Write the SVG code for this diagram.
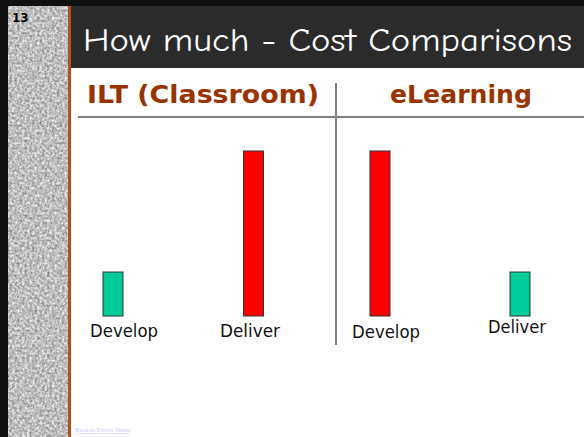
<svg xmlns="http://www.w3.org/2000/svg" width="584" height="437" viewBox="0 0 584 437">
<defs>
<filter id="noise" x="0" y="0" width="100%" height="100%" color-interpolation-filters="sRGB">
<feTurbulence type="fractalNoise" baseFrequency="0.4" numOctaves="2" seed="3" result="t"/>
<feColorMatrix in="t" type="matrix" values="0.65 0 0 0 0.42  0.65 0 0 0 0.42  0.65 0 0 0 0.42  0 0 0 0 1"/>
</filter>
<style>
.hdr{font-family:"DejaVu Sans",Verdana,sans-serif;font-weight:bold;font-size:24px;fill:#993300}
.lbl{font-family:"DejaVu Sans",Tahoma,sans-serif;font-size:18px;fill:#111}
.bar{stroke:#333;stroke-width:1}
.red{fill:#ff0000}
.grn{fill:#00cc99}
.rule{stroke:#808080;stroke-width:2}
</style>
</defs>
<rect width="584" height="437" fill="#ffffff"/>
<rect x="0" y="0" width="584" height="6" fill="#111"/>
<rect x="0" y="0" width="8" height="437" fill="#111"/>
<rect x="8" y="6" width="60" height="431" fill="#bbb" filter="url(#noise)"/>
<rect x="68" y="6" width="3" height="431" fill="#b4501c"/>
<rect x="71" y="6" width="513" height="62" fill="#2b2b2b"/>
<text x="12" y="22" font-family="DejaVu Sans, Verdana, sans-serif" font-weight="bold" font-size="12" fill="#000">13</text>
<text x="83" y="51" font-family="'Comic Neue','Comic Sans MS','DejaVu Sans',sans-serif" font-size="32" fill="#ffffff" textLength="489" lengthAdjust="spacingAndGlyphs">How much - Cost Comparisons</text>
<g id="headers">
<text class="hdr" x="87" y="103" textLength="232" lengthAdjust="spacingAndGlyphs">ILT (Classroom)</text>
<text class="hdr" x="390" y="103" textLength="142" lengthAdjust="spacingAndGlyphs">eLearning</text>
</g>
<g id="connectors">
<line class="rule" x1="78" y1="117" x2="584" y2="117"/>
<line class="rule" x1="336" y1="83" x2="336" y2="345"/>
</g>
<g id="ilt-develop">
<rect class="bar grn" x="103" y="272" width="20" height="44"/>
<text class="lbl" x="90" y="337" textLength="68" lengthAdjust="spacingAndGlyphs">Develop</text>
</g>
<g id="ilt-deliver">
<rect class="bar red" x="243.5" y="151" width="20" height="165"/>
<text class="lbl" x="220" y="337" textLength="60" lengthAdjust="spacingAndGlyphs">Deliver</text>
</g>
<g id="el-develop">
<rect class="bar red" x="370" y="151" width="20" height="165"/>
<text class="lbl" x="352" y="338" textLength="68" lengthAdjust="spacingAndGlyphs">Develop</text>
</g>
<g id="el-deliver">
<rect class="bar grn" x="510" y="272" width="20" height="44"/>
<text class="lbl" x="488" y="333" textLength="58" lengthAdjust="spacingAndGlyphs">Deliver</text>
</g>
<text x="75" y="432" font-family="'Liberation Serif',serif" font-size="5.5" fill="#c8c8ff" text-decoration="underline" textLength="55" lengthAdjust="spacingAndGlyphs">Back to Topics Menu</text>
</svg>
